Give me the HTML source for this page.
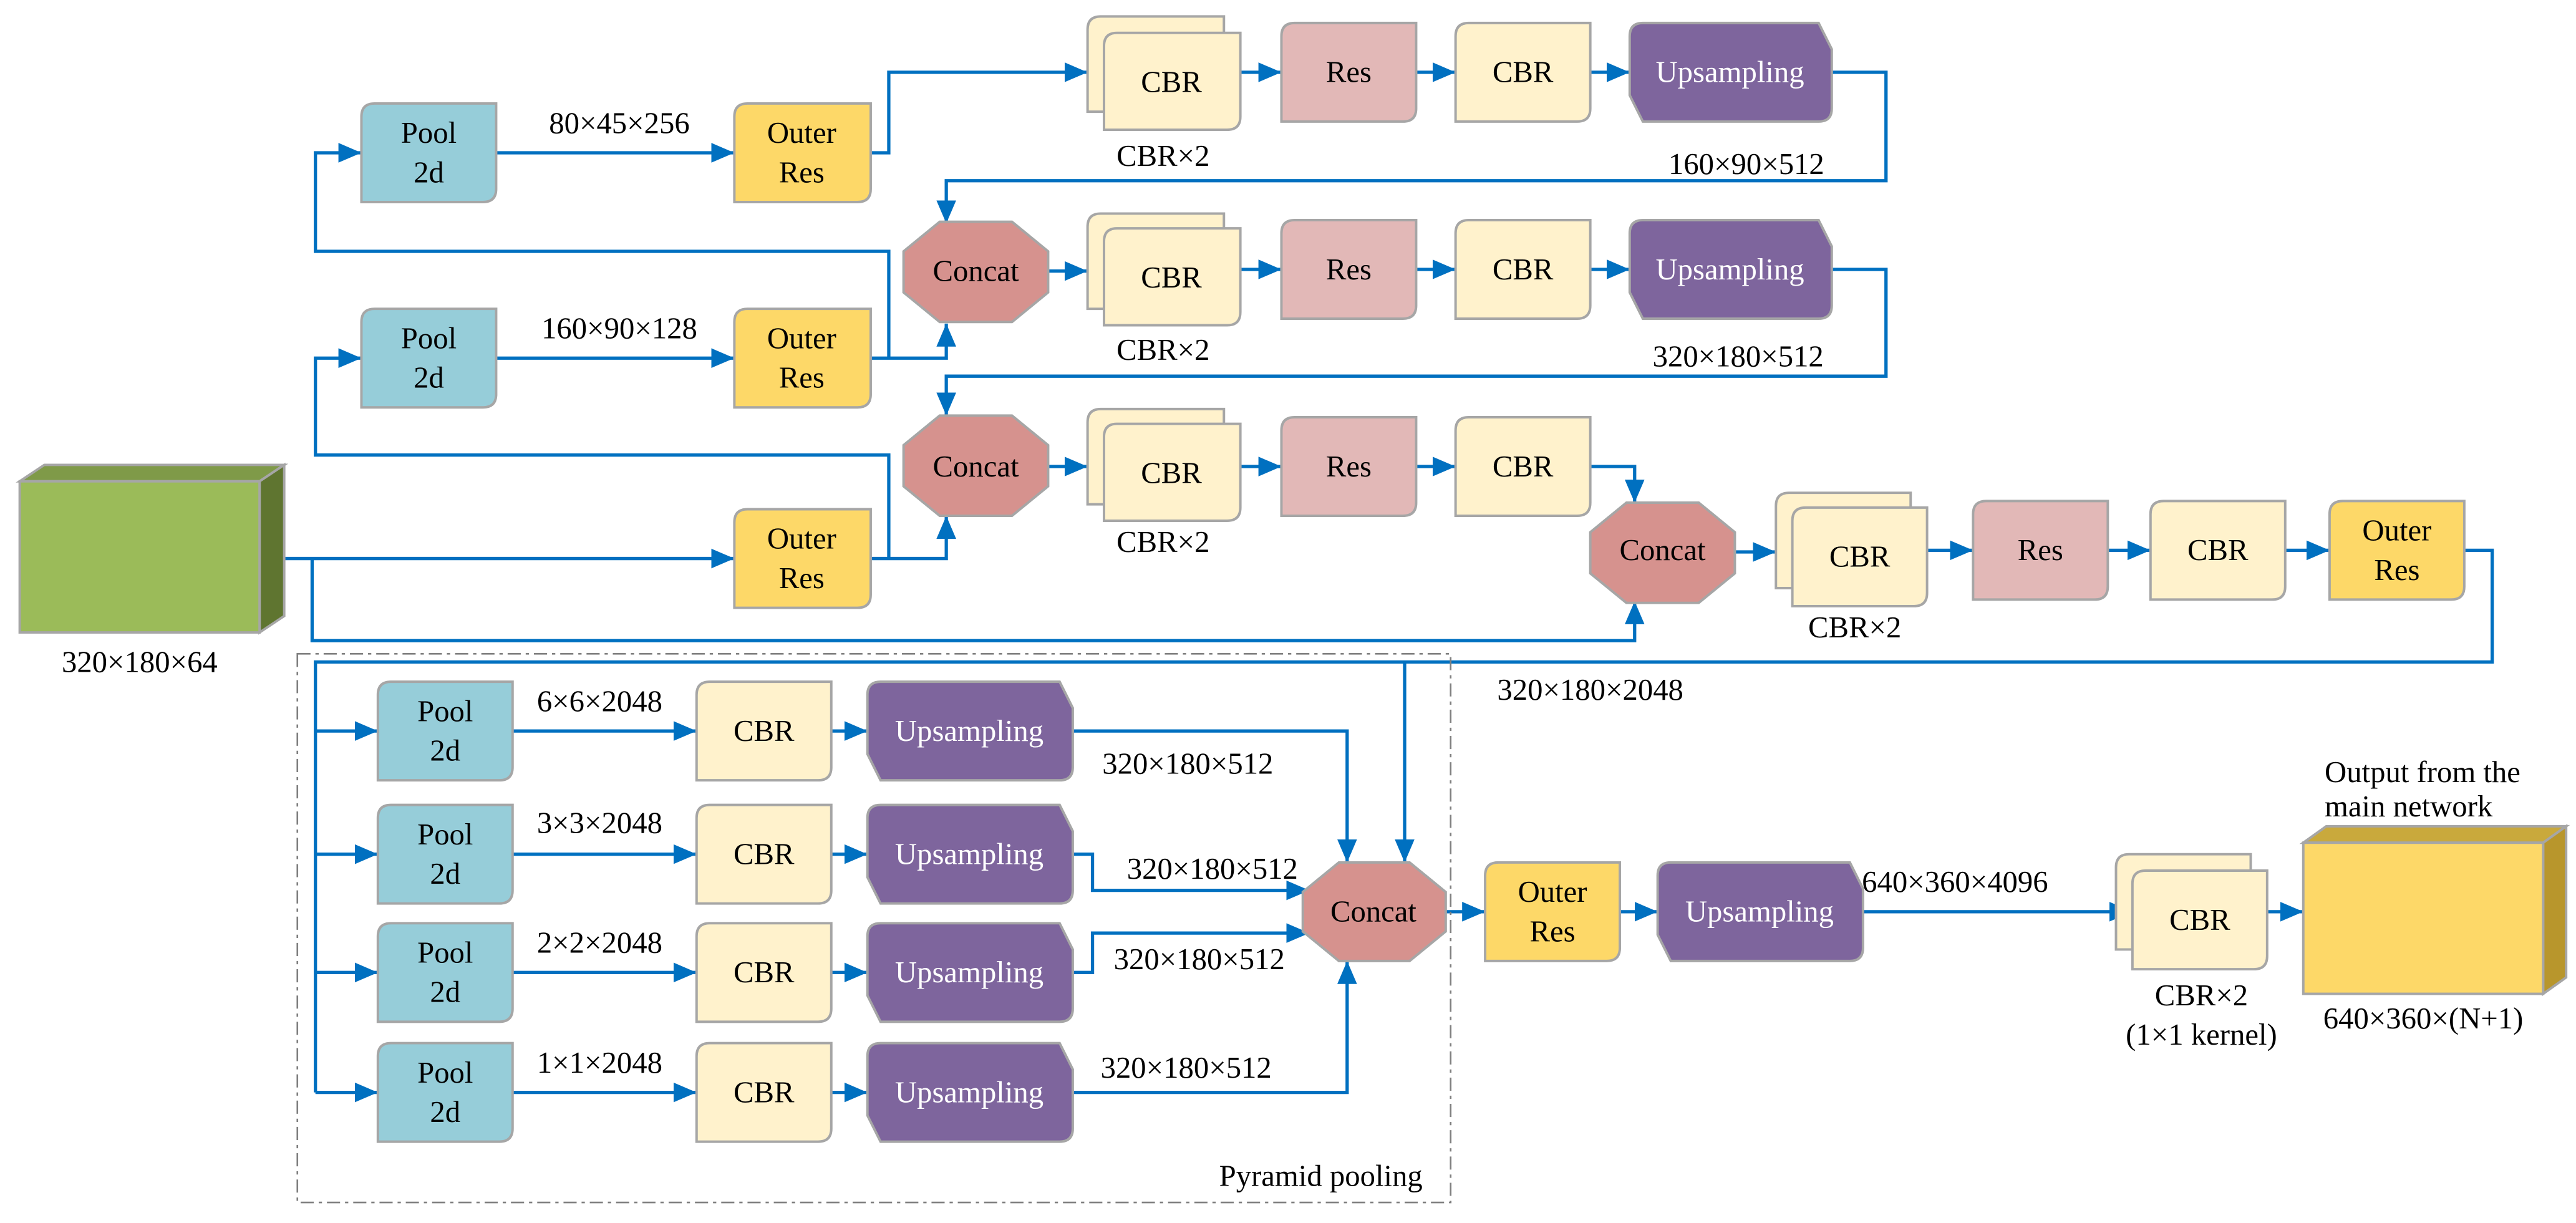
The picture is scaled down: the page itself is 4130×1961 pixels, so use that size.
<!DOCTYPE html>
<html><head><meta charset="utf-8"><style>html,body{margin:0;padding:0;background:#fff}svg{display:block}svg text{font-family:"Liberation Serif",serif;font-size:18.5px}</style></head>
<body>
<svg width="4130" height="1961" viewBox="0 0 1568 744.5" preserveAspectRatio="none" xmlns="http://www.w3.org/2000/svg">
<defs>
<marker id="a" markerUnits="userSpaceOnUse" markerWidth="14" markerHeight="14" viewBox="0 0 14 14" refX="14" refY="7" orient="auto"><path d="M0,1 L14,7 L0,13 Z" fill="#0070C0"/></marker>
</defs>
<g fill="none" stroke="#0070C0" stroke-width="2">
<path d="M302,93 H447" marker-end="url(#a)"/>
<path d="M530,93 H541 V44 H662" marker-end="url(#a)"/>
<path d="M755,44 H780" marker-end="url(#a)"/>
<path d="M862,44 H886" marker-end="url(#a)"/>
<path d="M968,44 H992" marker-end="url(#a)"/>
<path d="M1115,44 H1148 V110 H576 V136" marker-end="url(#a)"/>
<path d="M541,218 V153 H192 V93 H220" marker-end="url(#a)"/>
<path d="M302,218 H447" marker-end="url(#a)"/>
<path d="M530,218 H576 V197" marker-end="url(#a)"/>
<path d="M638,165 H662" marker-end="url(#a)"/>
<path d="M755,164 H780" marker-end="url(#a)"/>
<path d="M862,164 H886" marker-end="url(#a)"/>
<path d="M968,164 H992" marker-end="url(#a)"/>
<path d="M1115,164 H1148 V229 H576 V253" marker-end="url(#a)"/>
<path d="M541,340 V277 H192 V218 H220" marker-end="url(#a)"/>
<path d="M173,340 H447" marker-end="url(#a)"/>
<path d="M530,340 H576 V314" marker-end="url(#a)"/>
<path d="M638,284 H662" marker-end="url(#a)"/>
<path d="M755,284 H780" marker-end="url(#a)"/>
<path d="M862,284 H886" marker-end="url(#a)"/>
<path d="M968,284 H995 V306" marker-end="url(#a)"/>
<path d="M190,340 V390 H995 V366" marker-end="url(#a)"/>
<path d="M1056,336 H1081" marker-end="url(#a)"/>
<path d="M1173,335 H1201" marker-end="url(#a)"/>
<path d="M1283,335 H1309" marker-end="url(#a)"/>
<path d="M1391,335 H1418" marker-end="url(#a)"/>
<path d="M1500,335 H1517 V403 H192 V665"/>
<path d="M855,403 V525" marker-end="url(#a)"/>
<path d="M192,445 H230" marker-end="url(#a)"/>
<path d="M192,520 H230" marker-end="url(#a)"/>
<path d="M192,592 H230" marker-end="url(#a)"/>
<path d="M192,665 H230" marker-end="url(#a)"/>
<path d="M312,445 H424" marker-end="url(#a)"/>
<path d="M312,520 H424" marker-end="url(#a)"/>
<path d="M312,592 H424" marker-end="url(#a)"/>
<path d="M312,665 H424" marker-end="url(#a)"/>
<path d="M506,445 H528" marker-end="url(#a)"/>
<path d="M506,520 H528" marker-end="url(#a)"/>
<path d="M506,592 H528" marker-end="url(#a)"/>
<path d="M506,665 H528" marker-end="url(#a)"/>
<path d="M653,445 H820 V525" marker-end="url(#a)"/>
<path d="M653,520 H665 V542 H797" marker-end="url(#a)"/>
<path d="M653,592 H665 V568 H797" marker-end="url(#a)"/>
<path d="M653,665 H820 V585" marker-end="url(#a)"/>
<path d="M880,555 H904" marker-end="url(#a)"/>
<path d="M986,555 H1009" marker-end="url(#a)"/>
<path d="M1134,555 H1298" marker-end="url(#a)"/>
<path d="M1380,555 H1402" marker-end="url(#a)"/>
</g>
<rect x="181" y="398" width="702" height="334" fill="none" stroke="#808080" stroke-width="1" stroke-dasharray="8,3,2,3"/>
<g stroke="#A6A6A6" stroke-width="1.5">
<path d="M12,293 L27,283 H173 L158,293 Z" fill="#7F9A48"/>
<path d="M158,293 L173,283 V375 L158,385 Z" fill="#5F7530"/>
<rect x="12" y="293" width="146" height="92" fill="#9BBB59"/>
<path d="M1402,513 L1416,503 H1562 L1548,513 Z" fill="#C9A93C"/>
<path d="M1548,513 L1562,503 V595 L1548,605 Z" fill="#B8962C"/>
<rect x="1402" y="513" width="146" height="92" fill="#FDD868"/>
</g>
<g stroke="#A6A6A6" stroke-width="1.5">
<g fill="#96CDD9">
<path d="M228,63 H302 V115 Q302,123 294,123 H220 V71 Q220,63 228,63 Z"/>
<path d="M228,188 H302 V240 Q302,248 294,248 H220 V196 Q220,188 228,188 Z"/>
<path d="M238,415 H312 V467 Q312,475 304,475 H230 V423 Q230,415 238,415 Z"/>
<path d="M238,490 H312 V542 Q312,550 304,550 H230 V498 Q230,490 238,490 Z"/>
<path d="M238,562 H312 V614 Q312,622 304,622 H230 V570 Q230,562 238,562 Z"/>
<path d="M238,635 H312 V687 Q312,695 304,695 H230 V643 Q230,635 238,635 Z"/>
</g>
<g fill="#FDD868">
<path d="M455,63 H530 V115 Q530,123 522,123 H447 V71 Q447,63 455,63 Z"/>
<path d="M455,188 H530 V240 Q530,248 522,248 H447 V196 Q447,188 455,188 Z"/>
<path d="M455,310 H530 V362 Q530,370 522,370 H447 V318 Q447,310 455,310 Z"/>
<path d="M1426,305 H1500 V357 Q1500,365 1492,365 H1418 V313 Q1418,305 1426,305 Z"/>
<path d="M912,525 H986 V577 Q986,585 978,585 H904 V533 Q904,525 912,525 Z"/>
</g>
<g fill="#FFF2CC">
<path d="M670,10 H745 V68 H662 V18 Q662,10 670,10 Z"/>
<path d="M680,20 H755 V71 Q755,79 747,79 H672 V28 Q672,20 680,20 Z"/>
<path d="M670,130 H745 V188 H662 V138 Q662,130 670,130 Z"/>
<path d="M680,139 H755 V190 Q755,198 747,198 H672 V147 Q672,139 680,139 Z"/>
<path d="M670,249 H745 V307 H662 V257 Q662,249 670,249 Z"/>
<path d="M680,258 H755 V309 Q755,317 747,317 H672 V266 Q672,258 680,258 Z"/>
<path d="M1089,300 H1163 V358 H1081 V308 Q1081,300 1089,300 Z"/>
<path d="M1099,309 H1173 V361 Q1173,369 1165,369 H1091 V317 Q1091,309 1099,309 Z"/>
<path d="M1296,520 H1370 V578 H1288 V528 Q1288,520 1296,520 Z"/>
<path d="M1306,530 H1380 V582 Q1380,590 1372,590 H1298 V538 Q1298,530 1306,530 Z"/>
<path d="M894,14 H968 V66 Q968,74 960,74 H886 V22 Q886,14 894,14 Z"/>
<path d="M894,134 H968 V186 Q968,194 960,194 H886 V142 Q886,134 894,134 Z"/>
<path d="M894,254 H968 V306 Q968,314 960,314 H886 V262 Q886,254 894,254 Z"/>
<path d="M1317,305 H1391 V357 Q1391,365 1383,365 H1309 V313 Q1309,305 1317,305 Z"/>
<path d="M432,415 H506 V467 Q506,475 498,475 H424 V423 Q424,415 432,415 Z"/>
<path d="M432,490 H506 V542 Q506,550 498,550 H424 V498 Q424,490 432,490 Z"/>
<path d="M432,562 H506 V614 Q506,622 498,622 H424 V570 Q424,562 432,562 Z"/>
<path d="M432,635 H506 V687 Q506,695 498,695 H424 V643 Q424,635 432,635 Z"/>
</g>
<g fill="#E2B8B7">
<path d="M788,14 H862 V66 Q862,74 854,74 H780 V22 Q780,14 788,14 Z"/>
<path d="M788,134 H862 V186 Q862,194 854,194 H780 V142 Q780,134 788,134 Z"/>
<path d="M788,254 H862 V306 Q862,314 854,314 H780 V262 Q780,254 788,254 Z"/>
<path d="M1209,305 H1283 V357 Q1283,365 1275,365 H1201 V313 Q1201,305 1209,305 Z"/>
</g>
<g fill="#7E659D">
<path d="M1000,14 H1107 L1115,30 V66 Q1115,74 1107,74 H1000 L992,58 V22 Q992,14 1000,14 Z"/>
<path d="M1000,134 H1107 L1115,150 V186 Q1115,194 1107,194 H1000 L992,178 V142 Q992,134 1000,134 Z"/>
<path d="M536,415 H645 L653,431 V467 Q653,475 645,475 H536 L528,459 V423 Q528,415 536,415 Z"/>
<path d="M536,490 H645 L653,506 V542 Q653,550 645,550 H536 L528,534 V498 Q528,490 536,490 Z"/>
<path d="M536,562 H645 L653,578 V614 Q653,622 645,622 H536 L528,606 V570 Q528,562 536,562 Z"/>
<path d="M536,635 H645 L653,651 V687 Q653,695 645,695 H536 L528,679 V643 Q528,635 536,635 Z"/>
<path d="M1017,525 H1126 L1134,541 V577 Q1134,585 1126,585 H1017 L1009,569 V533 Q1009,525 1017,525 Z"/>
</g>
<g fill="#D6928E">
<polygon points="572,135 616,135 638,153 638,178 616,196 572,196 550,178 550,153"/>
<polygon points="572,253 616,253 638,271 638,296 616,314 572,314 550,296 550,271"/>
<polygon points="990,306 1034,306 1056,324 1056,349 1034,367 990,367 968,349 968,324"/>
<polygon points="815,525 858,525 880,543 880,567 858,585 815,585 793,567 793,543"/>
</g>
</g>
<g text-anchor="middle" fill="#000">
<text x="261" y="87">Pool</text><text x="261" y="111">2d</text>
<text x="261" y="212">Pool</text><text x="261" y="236">2d</text>
<text x="271" y="439">Pool</text><text x="271" y="463">2d</text>
<text x="271" y="514">Pool</text><text x="271" y="538">2d</text>
<text x="271" y="586">Pool</text><text x="271" y="610">2d</text>
<text x="271" y="659">Pool</text><text x="271" y="683">2d</text>
<text x="488" y="87">Outer</text><text x="488" y="111">Res</text>
<text x="488" y="212">Outer</text><text x="488" y="236">Res</text>
<text x="488" y="334">Outer</text><text x="488" y="358">Res</text>
<text x="1459" y="329">Outer</text><text x="1459" y="353">Res</text>
<text x="945" y="549">Outer</text><text x="945" y="573">Res</text>
<text x="377" y="81">80×45×256</text>
<text x="377" y="206">160×90×128</text>
<text x="713" y="56">CBR</text><text x="708" y="101">CBR×2</text>
<text x="713" y="175">CBR</text><text x="708" y="219">CBR×2</text>
<text x="713" y="294">CBR</text><text x="708" y="336">CBR×2</text>
<text x="1132" y="345">CBR</text><text x="1129" y="388">CBR×2</text>
<text x="1339" y="566">CBR</text><text x="1340" y="612">CBR×2</text><text x="1340" y="636">(1×1 kernel)</text>
<text x="821" y="50">Res</text><text x="821" y="170">Res</text><text x="821" y="290">Res</text><text x="1242" y="341">Res</text>
<text x="927" y="50">CBR</text><text x="927" y="170">CBR</text><text x="927" y="290">CBR</text><text x="1350" y="341">CBR</text>
<text x="465" y="451">CBR</text><text x="465" y="526">CBR</text><text x="465" y="598">CBR</text><text x="465" y="671">CBR</text>
<g fill="#fff">
<text x="1053" y="50">Upsampling</text><text x="1053" y="170">Upsampling</text>
<text x="590" y="451">Upsampling</text><text x="590" y="526">Upsampling</text><text x="590" y="598">Upsampling</text><text x="590" y="671">Upsampling</text>
<text x="1071" y="561">Upsampling</text>
</g>
<text x="594" y="171">Concat</text><text x="594" y="290">Concat</text><text x="1012" y="341">Concat</text><text x="836" y="561">Concat</text>
<text x="1063" y="106">160×90×512</text>
<text x="1058" y="223">320×180×512</text>
<text x="85" y="409">320×180×64</text>
<text x="968" y="426">320×180×2048</text>
<text x="365" y="433">6×6×2048</text>
<text x="365" y="507">3×3×2048</text>
<text x="365" y="580">2×2×2048</text>
<text x="365" y="653">1×1×2048</text>
<text x="723" y="471">320×180×512</text>
<text x="738" y="535">320×180×512</text>
<text x="730" y="590">320×180×512</text>
<text x="722" y="656">320×180×512</text>
<text x="1190" y="543">640×360×4096</text>
<text x="1475" y="626">640×360×(N+1)</text>
<text x="804" y="722">Pyramid pooling</text>
</g>
<text x="1415" y="476">Output from the</text>
<text x="1415" y="497">main network</text>
</svg>
</body></html>
